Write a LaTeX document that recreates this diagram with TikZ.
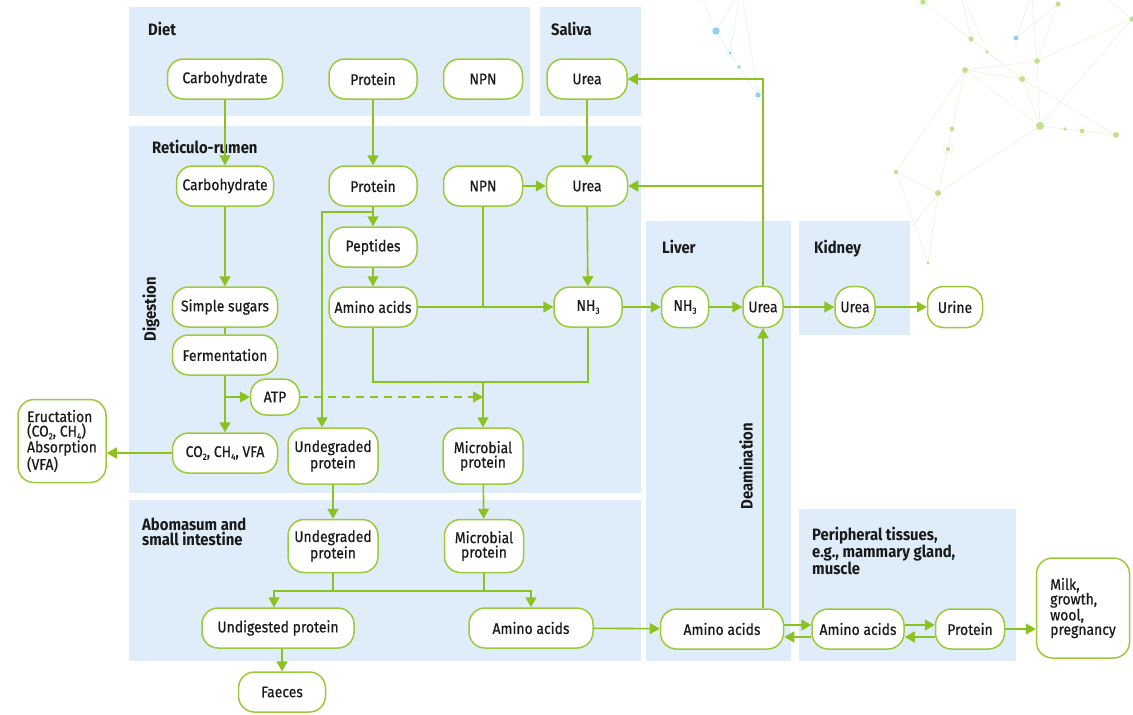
\documentclass[tikz,border=0pt]{standalone}
\usepackage{fontspec}
\setmainfont{Fira Sans}[FakeStretch=0.9]
\newfontfamily\nodefam{Fira Sans}[FakeStretch=0.9,FakeBold=0.5]
\usetikzlibrary{arrows.meta,calc}
\definecolor{gline}{HTML}{8CC21F}
\definecolor{gbord}{HTML}{9DCA3C}
\definecolor{bgblue}{HTML}{DFEDFA}
\definecolor{txt}{HTML}{1A1A1A}
\definecolor{netg}{HTML}{C6DF8E}
\definecolor{netgl}{HTML}{EEF4DD}
\definecolor{netb}{HTML}{93CDF0}
\definecolor{netbl}{HTML}{E3F1FA}
\newcommand{\nfont}{\nodefam\fontsize{15.5}{14.5}\selectfont}
\newcommand{\tfont}{\fontsize{16.5}{14.5}\selectfont\bfseries}
\newcommand{\sub}[1]{\raisebox{-0.35ex}{\fontsize{9}{9}\selectfont #1}}
\tikzset{
  box/.style={draw=gbord,fill=white,line width=1.5pt,rounded corners=16pt,minimum height=40pt,inner sep=1pt,align=center,font=\nfont,text=txt},
  arr/.style={draw=gline,line width=1.6pt,-{Triangle[length=10pt,width=11pt]}},
  ln/.style={draw=gline,line width=1.6pt},
  ttl/.style={font=\tfont,text=txt,inner sep=0pt,align=left},
  bg/.style={fill=bgblue},
  netline/.style={draw=netgl,line width=0.6pt},
  netblue/.style={draw=netbl,line width=0.6pt},
}
\begin{document}
\begin{tikzpicture}[x=1pt,y=-1pt]
\useasboundingbox[fill=white] (0,0) rectangle (1133,715);

% decorative network
\coordinate (nA) at (923,2);  \coordinate (nB) at (971,39);  \coordinate (nC) at (987,52);
\coordinate (nD) at (1016,38); \coordinate (nE) at (1058,4); \coordinate (nF) at (1132,19);
\coordinate (nG) at (1037,61); \coordinate (nH) at (965,70); \coordinate (nI) at (1022,79);
\coordinate (nJ) at (1040,126); \coordinate (nK) at (1065,129); \coordinate (nL) at (1082,131);
\coordinate (nM) at (1116,135); \coordinate (nN) at (952,129); \coordinate (nO) at (948,149);
\coordinate (nP) at (896,172); \coordinate (nQ) at (938,193); \coordinate (nR) at (928,263);
\coordinate (t1) at (962,0); \coordinate (t2) at (965,0); \coordinate (t3) at (1032,0);
\coordinate (t4) at (1030,0); \coordinate (t5) at (1108,0); \coordinate (t6) at (905,235);
\draw[netline] (nA)--(nB) (t1)--(nB) (t2)--(nC) (nC)--(nI) (nB)--(nI) (nH)--(nG) (nH)--(nI)
  (nH)--(nJ) (nH)--(nP) (nH)--(nN)--(nO)--(nQ) (nP)--(nQ) (nP)--(nR) (nQ)--(nR) (nQ)--(nJ)
  (nQ)--(t6) (nI)--(nJ) (nI)--(nM) (nG)--(nJ) (nG)--(nE) (nG)--(nF) (nG)--(t3) (nJ)--(nF)
  (nJ)--(nK)--(nL)--(nM) (nF)--(t5);
\draw[netblue] (nD)--(nE) (nD)--(t4);
\coordinate (b1) at (716,31); \coordinate (b2) at (730,53); \coordinate (b3) at (739,67);
\coordinate (b4) at (758,95); \coordinate (bt1) at (703,0); \coordinate (bt2) at (735,0);
\coordinate (bt3) at (739,0); \coordinate (bt4) at (743,0);
\draw[netblue] (bt1)--(b1)--(b3)--(b4) (b1)--(bt2) (b2)--(bt3) (b4)--(bt4);
\foreach \p/\r in {nA/2.8,nB/2.6,nC/1.8,nE/2.6,nF/2.6,nG/2.8,nH/3,nI/3,nJ/4,nK/1.8,nL/2.4,nM/3,nN/2.4,nO/2.2,nP/2.2,nQ/3,nR/1.6}
  \fill[netg] (\p) circle (\r pt);
\foreach \p in {nI,nL,nO,nA} \draw[netgl,line width=0.6pt] (\p) circle (5pt);
\fill[netb] (nD) circle (2.4pt);
\fill[netb] (b1) circle (3.6pt); \fill[netb] (b2) circle (1.6pt); \fill[netb] (b3) circle (1.8pt);
\fill[netb] (b4) circle (2.6pt);
\draw[netbl,line width=0.6pt] (b2) circle (3.5pt) (b4) circle (5pt);

% background panels
\fill[bg] (129,7) rectangle (530,116);
\fill[bg] (540,7) rectangle (641,116);
\fill[bg] (129,126) rectangle (641,493);
\fill[bg] (129,500) rectangle (641,661);
\fill[bg] (646,221) rectangle (791,661);
\fill[bg] (799,221) rectangle (910,335);
\fill[bg] (799,509) rectangle (1016,661);

% titles
\node[ttl,anchor=base west] (tdiet) at (148,35) {Diet};
\node[ttl,anchor=base west] (tsal) at (551,35) {Saliva};
\node[ttl,anchor=base west] (tret) at (152,153) {Reticulo-rumen};
\node[ttl,anchor=base west] (tliv) at (662,253) {Liver};
\node[ttl,anchor=base west] (tkid) at (814,253) {Kidney};
\node[ttl,anchor=north west] (tabo) at (142,518) {Abomasum and\\small intestine};
\node[ttl,anchor=north west] (tper) at (812,527) {Peripheral tissues,\\e.g., mammary gland,\\muscle};
\node[ttl,rotate=90] (tdig) at (151,309) {Digestion};
\node[ttl,rotate=90] (tdea) at (746,466) {Deamination};

% nodes: diet and saliva
\node[box,minimum width=115pt] (dcarb) at (225,79) {Carbohydrate};
\node[box,minimum width=88pt] (dprot) at (373,79) {Protein};
\node[box,minimum width=79pt] (dnpn) at (483,79) {NPN};
\node[box,minimum width=80pt] (surea) at (587,79) {Urea};
% reticulo-rumen
\node[box,minimum width=97pt] (rcarb) at (225,186) {Carbohydrate};
\node[box,minimum width=88pt] (rprot) at (373,186) {Protein};
\node[box,minimum width=79pt] (rnpn) at (483,186) {NPN};
\node[box,minimum width=81pt] (rurea) at (587,186) {Urea};
\node[box,minimum width=88pt] (pept) at (373,247) {Peptides};
\node[box,minimum width=88pt] (raa) at (373,307) {Amino acids};
\node[box,minimum width=105pt] (sugar) at (225,307) {Simple sugars};
\node[box,minimum width=68pt] (rnh3) at (588,307) {NH\sub{3}};
\node[box,minimum width=105pt] (ferm) at (225,355) {Fermentation};
\node[box,minimum width=49pt,minimum height=36pt] (atp) at (275,397) {ATP};
\node[box,minimum width=105pt] (co2) at (225,453) {CO\sub{2}, CH\sub{4}, VFA};
\node[box,minimum width=88pt,minimum height=83pt,align=left] (eruct) at (62,441) {Eructation\\(CO\sub{2}, CH\sub{4})\\Absorption\\(VFA)};
\node[box,minimum width=90pt,minimum height=56pt] (rundeg) at (333,456) {Undegraded\\protein};
\node[box,minimum width=80pt,minimum height=56pt] (rmicro) at (483,456) {Microbial\\protein};
% liver, kidney
\node[box,minimum width=47pt,minimum height=41pt] (lnh3) at (685,307) {NH\sub{3}};
\node[box,minimum width=40pt,minimum height=41pt,rounded corners=17pt] (lurea) at (763,307) {Urea};
\node[box,minimum width=40pt,minimum height=41pt,rounded corners=17pt] (kurea) at (855,307) {Urea};
\node[box,minimum width=55pt,minimum height=41pt] (urine) at (955,307) {Urine};
% abomasum
\node[box,minimum width=90pt,minimum height=53pt] (aundeg) at (333,546) {Undegraded\\protein};
\node[box,minimum width=79pt,minimum height=53pt] (amicro) at (484,546) {Microbial\\protein};
\node[box,minimum width=152pt] (undig) at (278,628) {Undigested protein};
\node[box,minimum width=124pt] (aaa) at (531,628) {Amino acids};
\node[box,minimum width=87pt] (faeces) at (282,692) {Faeces};
% liver / peripheral
\node[box,minimum width=123pt] (laa) at (722,629) {Amino acids};
\node[box,minimum width=92pt] (paa) at (858,629) {Amino acids};
\node[box,minimum width=69pt] (pprot) at (970,629) {Protein};
\node[box,minimum width=93pt,minimum height=100pt,align=left] (milk) at (1083,608) {Milk,\\growth,\\wool,\\pregnancy};

% connectors
\draw[arr] (dcarb) -- (rcarb);
\draw[arr] (dprot) -- (rprot);
\draw[arr] (surea) -- (rurea);
\draw[arr] (rnpn) -- (rurea);
\draw[arr] (rcarb) -- (sugar);
\draw[ln] (sugar) -- (ferm);
\draw[arr] (ferm) -- (co2);
\draw[arr] (ferm.south |- atp.west) -- (atp.west);
\draw[arr] (rprot) -- (pept);
\draw[arr] ($(rprot.south)+(0,5)$) -| ([xshift=-11pt]rundeg.north);
\draw[arr] (pept) -- (raa);
\draw[arr] (raa) -- (rnh3);
\draw[ln] (rnpn.south) -- (rnpn.south |- raa.east);
\draw[arr] (rurea) -- (rnh3);
\coordinate (j1) at (483,382);
\draw[ln] (raa.south) |- (j1) -| (rnh3.south);
\draw[arr] (j1) -- (rmicro.north);
\draw[arr,dashed,dash pattern=on 8pt off 6pt] (atp.east) -- (atp.east -| j1);
\draw[arr] (co2.west) -- (co2.west -| eruct.east);
\draw[arr] (rnh3) -- (lnh3);
\draw[arr] (lnh3) -- (lurea);
\draw[arr] (lurea) -- (kurea);
\draw[arr] (kurea) -- (urine);
\draw[arr] (lurea.north) |- (surea.east);
\draw[arr] (lurea.north |- rurea.east) -- (rurea.east);
\draw[arr] (rundeg) -- (aundeg);
\draw[arr] (rmicro) -- (amicro);
\coordinate (j2) at (333,591);
\coordinate (j3) at (484,591);
\draw[ln] (aundeg.south) -- (j2);
\draw[ln] (amicro.south) -- (j3);
\draw[arr] (j2) -| ([xshift=-4pt]undig.north);
\draw[arr] (j2) -| (aaa.north);
\draw[arr] (faeces.north |- undig.south) -- (faeces.north);
\draw[arr] (aaa) -- (laa);
\draw[arr] (lurea.south |- laa.north) -- (lurea.south);
\draw[arr] ([yshift=4pt]laa.east) -- ([yshift=4pt]paa.west);
\draw[arr] ([yshift=-8pt]paa.west) -- ([yshift=-8pt]laa.east);
\draw[arr] ([yshift=4pt]paa.east) -- ([yshift=4pt]pprot.west);
\draw[arr] ([yshift=-8pt]pprot.west) -- ([yshift=-8pt]paa.east);
\draw[arr] (pprot.east) -- (pprot.east -| milk.west);
\end{tikzpicture}
\end{document}
